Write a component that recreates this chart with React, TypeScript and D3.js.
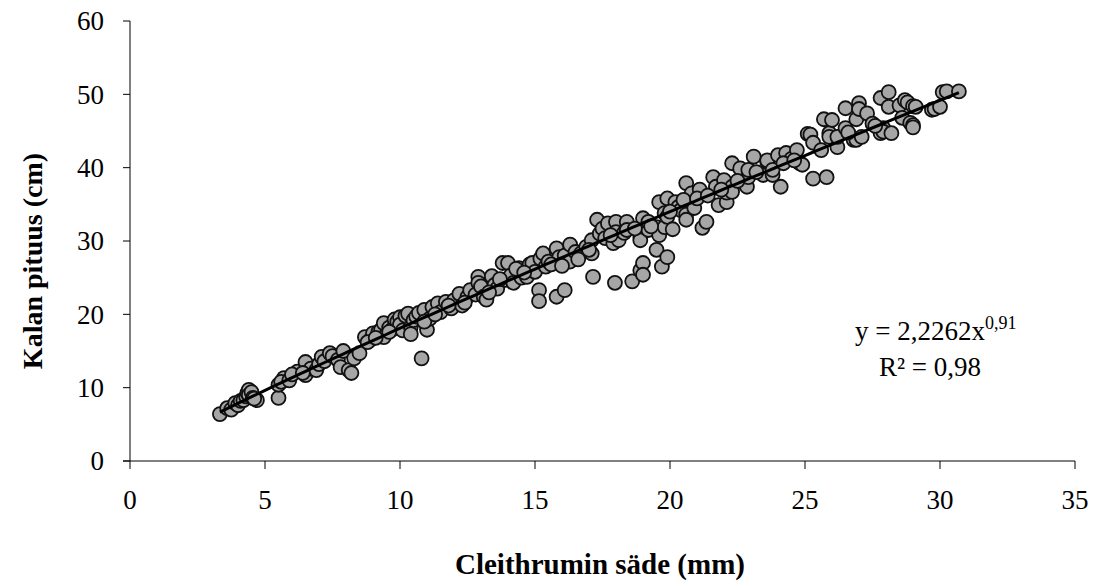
import React from "react";
import * as d3 from "d3";

// Cleithrum radius (mm) and fish length (cm)
const radius: number[] = [
  3.33, 3.6, 3.75, 3.9, 4.0, 4.1, 4.2, 4.3, 4.35, 4.4, 4.4, 4.5, 4.55, 4.7, 4.6,
  5.5, 5.5, 5.7, 5.6, 6.2, 6.5, 6.5, 6.7, 6.9, 7.0, 7.1, 7.2, 7.4, 7.5, 7.7, 7.8, 7.9, 8.1, 8.2, 8.3,
  8.5, 8.7, 8.9, 9.0, 9.2, 9.3, 9.4, 9.4, 9.6, 9.7, 9.8, 9.9, 10.0, 10.0, 10.1, 10.2, 10.3, 10.4, 10.4, 10.5, 10.6, 10.7, 10.8, 10.9, 11.0, 11.1, 11.2,
  11.4, 11.5, 11.7, 11.9, 12.0, 12.2, 12.3, 12.5, 12.6, 12.8, 12.9, 12.9, 13.0, 13.1, 13.2, 13.4, 13.5, 13.6, 13.8, 13.9, 14.0, 14.1, 14.2, 14.4, 14.5, 14.7, 14.8, 14.9, 15.0, 15.15, 15.15, 15.2, 15.3, 15.4, 15.5,
  15.8, 15.8, 15.9, 16.1, 16.1, 16.3, 16.3, 16.5, 16.7, 16.9, 17.1, 17.1, 17.15, 17.3, 17.4, 17.5, 17.6, 17.7, 17.9, 17.96, 18.0, 18.0, 18.1, 18.3, 18.4, 18.4, 18.6,
  18.9, 18.9, 18.9, 19.0, 19.0, 19.0, 19.2, 19.2, 19.5, 19.5, 19.6, 19.6, 19.7, 19.8, 19.8, 19.9, 19.9, 19.9, 20.1, 20.2, 20.3, 20.4, 20.6, 20.6, 20.6, 20.8, 20.9, 21.1, 21.2, 21.35,
  21.6, 21.7, 21.8, 22.0, 22.1, 22.1, 22.3, 22.3, 22.3, 22.6, 22.85, 22.9, 22.9, 23.1, 23.45, 23.6, 23.6, 23.8, 23.8, 24.0, 24.1, 24.3, 24.5, 24.7, 24.8, 24.9, 25.1, 25.2, 25.3, 25.3, 25.6, 25.7, 25.8, 25.9, 25.9,
  26.0, 26.2, 26.2, 26.5, 26.5, 26.8, 26.9, 26.9, 27.0, 27.0, 27.1, 27.3, 27.5, 27.8, 27.8, 27.9, 27.9, 28.1, 28.1, 28.2, 28.5, 28.6, 28.7, 28.8, 28.9, 29.0, 29.0, 29.0, 29.1, 29.7, 29.8, 30.0, 30.1, 30.25, 30.7,
  5.9, 6.0, 6.4, 8.8, 9.1, 9.6, 10.9, 11.3, 11.8, 12.4, 13.3, 13.7, 14.3, 14.6, 15.6, 16.0, 16.6, 17.0, 17.8, 18.7, 19.3, 20.0, 20.5, 21.0, 21.4, 21.9, 22.5, 23.2, 24.2, 24.6, 26.6, 27.6,
];

const fishLength: number[] = [
  6.4, 7.2, 7.0, 7.9, 7.6, 8.2, 8.3, 8.8, 9.3, 9.7, 9.0, 9.4, 8.6, 8.3, 8.5,
  8.6, 10.4, 11.3, 10.8, 12.2, 13.5, 11.7, 12.6, 12.4, 13.2, 14.2, 13.6, 14.7, 14.3, 13.8, 12.8, 15.0, 12.4, 12.0, 14.0,
  14.7, 16.9, 16.5, 17.4, 17.6, 17.9, 18.8, 16.9, 18.2, 17.9, 19.3, 19.0, 19.6, 18.6, 17.8, 19.8, 20.1, 18.3, 17.3, 19.2, 19.7, 20.2, 14.0, 20.6, 17.9, 19.4, 21.0,
  21.5, 20.3, 21.7, 20.8, 21.9, 22.8, 21.2, 22.4, 23.3, 22.7, 25.1, 24.3, 23.8, 22.4, 22.0, 25.2, 24.0, 23.5, 27.0, 24.7, 27.0, 25.3, 24.3, 26.3, 25.0, 25.1, 26.8, 27.0, 25.8, 23.3, 21.8, 27.6, 28.3, 26.5, 27.2,
  29.0, 22.4, 27.8, 23.3, 28.0, 29.5, 27.2, 28.5, 28.3, 29.2, 30.1, 28.3, 25.1, 32.9, 31.0, 31.7, 30.4, 32.4, 29.7, 24.3, 32.6, 31.2, 30.1, 31.1, 32.6, 31.5, 24.5,
  30.5, 30.1, 26.0, 27.0, 25.4, 33.1, 31.5, 32.6, 28.8, 31.9, 30.8, 35.3, 26.5, 31.9, 33.8, 27.8, 35.8, 33.3, 31.6, 35.3, 34.6, 34.2, 37.9, 33.6, 32.9, 36.5, 34.5, 37.0, 31.8, 32.6,
  38.7, 37.4, 34.9, 38.3, 35.3, 36.6, 40.6, 37.4, 36.7, 39.9, 37.4, 38.7, 39.7, 41.5, 39.0, 40.8, 41.0, 39.0, 39.7, 41.7, 37.4, 42.0, 41.2, 42.4, 40.6, 40.4, 44.6, 44.5, 43.4, 38.5, 42.4, 46.6, 38.7, 44.7, 44.2,
  46.5, 42.8, 44.2, 48.1, 45.4, 43.8, 46.6, 43.8, 48.8, 48.0, 44.2, 47.4, 46.0, 49.5, 44.7, 45.4, 44.9, 50.3, 48.3, 44.7, 48.5, 46.8, 49.2, 48.9, 46.1, 48.4, 45.8, 45.5, 48.3, 47.9, 48.0, 48.3, 50.3, 50.4, 50.4,
  11.0, 11.8, 12.0, 16.2, 16.8, 17.6, 19.0, 20.0, 21.2, 21.6, 23.0, 24.8, 26.2, 25.7, 26.8, 26.6, 27.5, 28.8, 30.8, 31.7, 32.0, 34.0, 35.6, 35.8, 36.2, 37.0, 38.2, 39.4, 40.6, 41.0, 44.8, 45.7,
];

const xTicks: number[] = [0, 5, 10, 15, 20, 25, 30, 35];
const yTicks: number[] = [0, 10, 20, 30, 40, 50, 60];

const coefA = 2.2262;
const coefB = 0.91;
const trendXs: number[] = [3.33, 30.7];

const xTitle = "Cleithrumin säde (mm)";
const yTitle = "Kalan pituus (cm)";

export default function App() {
  const W = 1094;
  const H = 585;
  const left = 130, right = 1075, top = 21, bottom = 461;
  const x = d3.scaleLinear().domain([0, 35]).range([left, right]);
  const y = d3.scaleLinear().domain([0, 60]).range([bottom, top]);
  const font = "'Liberation Serif', 'DejaVu Serif', serif";

  const [x0, x1] = trendXs;
  const steps = 120;
  const trendPts: [number, number][] = d3.range(steps + 1).map((i) => {
    const xv = x0 + ((x1 - x0) * i) / steps;
    return [xv, coefA * Math.pow(xv, coefB)];
  });
  const line = d3
    .line<[number, number]>()
    .x((d) => x(d[0]))
    .y((d) => y(d[1]));

  const pts = radius.map((r, i) => ({ r, l: fishLength[i] }));

  return (
    <svg
      width={W}
      height={H}
      style={{ position: "absolute", left: 0, top: 0, background: "#fff" }}
      fontFamily={font}
    >
      <rect x={0} y={0} width={W} height={H} fill="#fff" />
      {/* axes */}
      <line x1={left} x2={left} y1={top} y2={bottom} stroke="#000" strokeWidth={1} />
      <line x1={left - 7} x2={right} y1={bottom} y2={bottom} stroke="#000" strokeWidth={1} />
      {yTicks.map((t) => (
        <g key={"y" + t}>
          <line x1={left - 7} x2={left} y1={y(t)} y2={y(t)} stroke="#000" />
          <text x={left - 26} y={y(t)} dy="0.34em" textAnchor="end" fontSize={27}>
            {t}
          </text>
        </g>
      ))}
      {xTicks.map((t) => (
        <g key={"x" + t}>
          <line x1={x(t)} x2={x(t)} y1={bottom} y2={bottom + 8} stroke="#000" />
          <text x={x(t)} y={bottom + 48} textAnchor="middle" fontSize={27}>
            {t}
          </text>
        </g>
      ))}
      {/* points */}
      {pts.map((p, i) => (
        <circle
          key={i}
          cx={x(p.r)}
          cy={y(p.l)}
          r={7}
          fill="#a6a6a6"
          stroke="#111"
          strokeWidth={1.8}
        />
      ))}
      {/* trend */}
      <path d={line(trendPts) || ""} fill="none" stroke="#000" strokeWidth={3} />
      {/* equation */}
      <text x={855} y={340} fontSize={27}>
        y = 2,2262x<tspan dy={-11} fontSize={18}>0,91</tspan>
      </text>
      <text x={930} y={376} fontSize={27} textAnchor="middle">
        R² = 0,98
      </text>
      {/* titles */}
      <text x={600} y={574} textAnchor="middle" fontSize={29} fontWeight="bold">
        {xTitle}
      </text>
      <text
        transform={`translate(42, 261) rotate(-90)`}
        textAnchor="middle"
        fontSize={28}
        fontWeight="bold"
      >
        {yTitle}
      </text>
    </svg>
  );
}
